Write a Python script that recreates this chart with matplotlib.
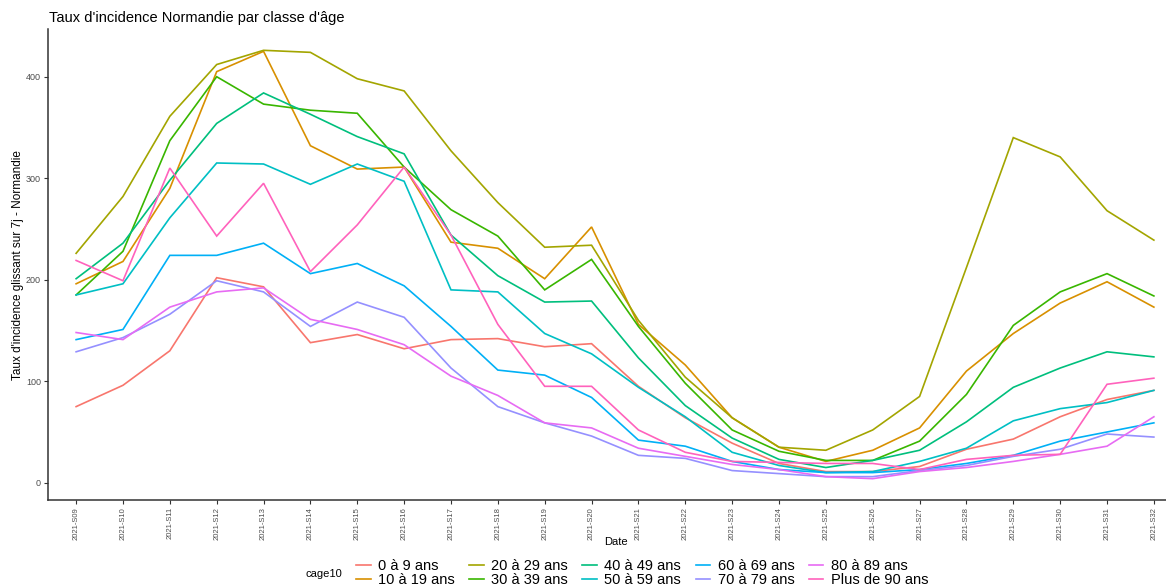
import numpy as np
import matplotlib
matplotlib.use("Agg")
import matplotlib.pyplot as plt

# semaines 2021-S09 .. 2021-S32
semaines = ["2021-S%02d" % s for s in range(9, 33)]

classes = ["0 à 9 ans", "10 à 19 ans", "20 à 29 ans", "30 à 39 ans", "40 à 49 ans",
           "50 à 59 ans", "60 à 69 ans", "70 à 79 ans", "80 à 89 ans", "Plus de 90 ans"]

age_0_9 = [75, 96, 130, 202, 193, 138, 146, 132, 141, 142, 134, 137, 95, 64, 39, 19, 11, 11, 16, 33, 43, 65, 82, 91]
age_10_19 = [196, 218, 290, 405, 425, 332, 309, 311, 237, 231, 201, 252, 156, 116, 64, 35, 21, 32, 54, 110, 147, 177, 198, 173]
age_20_29 = [226, 282, 361, 412, 426, 424, 398, 386, 327, 276, 232, 234, 160, 104, 64, 35, 32, 52, 85, 212, 340, 321, 268, 239]
age_30_39 = [185, 228, 337, 400, 373, 367, 364, 311, 269, 243, 190, 220, 154, 98, 52, 31, 22, 22, 41, 87, 155, 188, 206, 184]
age_40_49 = [201, 236, 298, 354, 384, 363, 341, 324, 244, 204, 178, 179, 123, 76, 44, 23, 15, 22, 32, 60, 94, 113, 129, 124]
age_50_59 = [185, 196, 261, 315, 314, 294, 314, 297, 190, 188, 147, 127, 94, 65, 30, 17, 10, 11, 21, 34, 61, 73, 79, 91]
age_60_69 = [141, 151, 224, 224, 236, 206, 216, 194, 154, 111, 106, 84, 42, 36, 21, 13, 10, 10, 13, 19, 27, 41, 50, 59]
age_70_79 = [129, 143, 166, 199, 188, 154, 178, 163, 113, 75, 59, 46, 27, 24, 12, 9, 6, 6, 12, 17, 26, 33, 48, 45]
age_80_89 = [148, 141, 173, 188, 192, 161, 151, 136, 105, 86, 59, 54, 34, 26, 18, 13, 6, 4, 11, 15, 21, 28, 36, 65]
age_90_plus = [219, 199, 310, 243, 295, 208, 254, 311, 244, 156, 95, 95, 52, 30, 21, 20, 19, 19, 13, 23, 27, 28, 97, 103]

series = [age_0_9, age_10_19, age_20_29, age_30_39, age_40_49,
          age_50_59, age_60_69, age_70_79, age_80_89, age_90_plus]

# palette hue par defaut de ggplot (10 niveaux)
couleurs = ["#F8766D", "#D89000", "#A3A500", "#39B600", "#00BF7D",
            "#00BFC4", "#00B0F6", "#9590FF", "#E76BF3", "#FF62BC"]

narrow = ["Liberation Sans Narrow", "Liberation Sans", "DejaVu Sans"]
plt.rcParams["font.family"] = ["Liberation Sans", "DejaVu Sans"]

W, H = 1166, 586
fig = plt.figure(figsize=(W / 100, H / 100), dpi=100)
ax = fig.add_axes([48 / W, (H - 500) / H, (1182 - 48) / W, (500 - 29) / H])

x = np.arange(len(semaines))
lignes = []
for nom, vals, c in zip(classes, series, couleurs):
    l, = ax.plot(x, vals, color=c, lw=1.2, label=nom, solid_joinstyle="miter")
    lignes.append(l)

ax.set_xlim(-0.6, len(semaines) - 1 + 0.6)
ax.set_ylim(-17, 447)
ax.set_yticks([0, 100, 200, 300, 400])
ax.set_xticks(x)
ax.set_xticklabels(semaines, rotation=90, fontsize=5.5, color="#4d4d4d", family=narrow)
for t in ax.get_yticklabels():
    t.set_fontsize(6.5)
    t.set_color("#4d4d4d")

for s in ["top", "right"]:
    ax.spines[s].set_visible(False)
for s in ["left", "bottom"]:
    ax.spines[s].set_color("#333333")
    ax.spines[s].set_linewidth(1.1)
ax.tick_params(axis="both", color="#333333", length=3, width=0.8, pad=2)

fig.text(616 / W, 1 - 542 / H, "Date", ha="center", va="center", fontsize=8)
fig.text(18 / W, 1 - 265 / H, "Taux d'incidence glissant sur 7j - Normandie", rotation=90,
         ha="center", va="center", fontsize=8.5, family=narrow)
fig.text(49 / W, 1 - 18 / H, "Taux d'incidence Normandie par classe d'âge",
         ha="left", va="center", fontsize=10.5)

# legende en bas, titre a gauche
fig.text(305 / W, 1 - 574 / H, "cage10", ha="left", va="center", fontsize=8)
leg = fig.legend(handles=lignes, loc="center left", bbox_to_anchor=(356 / W, 1 - 573 / H),
                 ncol=5, frameon=False, fontsize=10.5, labelspacing=0.0,
                 handlelength=1.0, handletextpad=0.5, columnspacing=1.0,
                 borderpad=0, borderaxespad=0)

fig.savefig("out.png", dpi=100)
